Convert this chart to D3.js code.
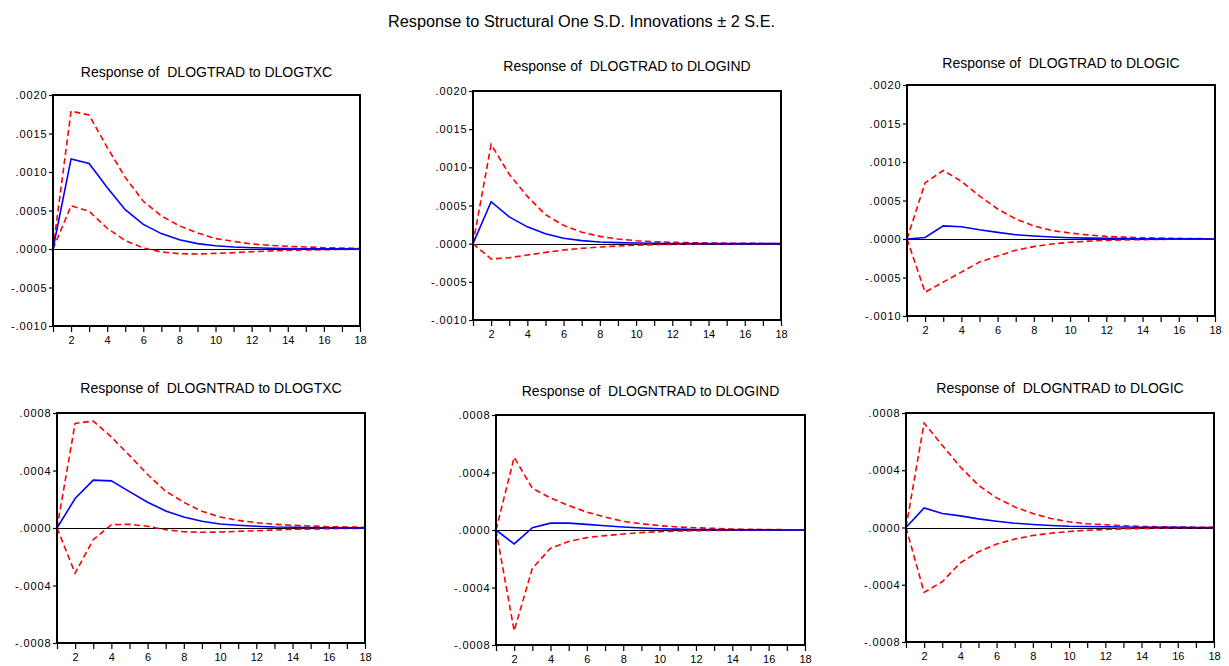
<!DOCTYPE html>
<html>
<head>
<meta charset="utf-8">
<script src="https://cdn.jsdelivr.net/npm/d3@7"></script>
<style>
  html, body { margin: 0; padding: 0; background: #fff; }
  svg { display: block; font-family: "Liberation Sans", Arial, sans-serif; }
</style>
</head>
<body>
<svg id="chart" width="1229" height="666"></svg>
<script>
// ---------------- DATA ----------------
const periods = [1,2,3,4,5,6,7,8,9,10,11,12,13,14,15,16,17,18];
const xTickLabels = ["", "2", "", "4", "", "6", "", "8", "", "10", "", "12", "", "14", "", "16", "", "18"];

const titles = [
  "Response of  DLOGTRAD to DLOGTXC",
  "Response of  DLOGTRAD to DLOGIND",
  "Response of  DLOGTRAD to DLOGIC",
  "Response of  DLOGNTRAD to DLOGTXC",
  "Response of  DLOGNTRAD to DLOGIND",
  "Response of  DLOGNTRAD to DLOGIC"
];

const yTicksTop = [-0.001, -0.0005, 0, 0.0005, 0.001, 0.0015, 0.002];
const yLabelsTop = ["-.0010", "-.0005", ".0000", ".0005", ".0010", ".0015", ".0020"];
const yTicksBottom = [-0.0008, -0.0004, 0, 0.0004, 0.0008];
const yLabelsBottom = ["-.0008", "-.0004", ".0000", ".0004", ".0008"];

// Panel 1: DLOGTRAD to DLOGTXC
const resp1  = [0, 0.00117, 0.00111, 0.00080, 0.00051, 0.00032, 0.00020, 0.00012, 0.00007, 0.000043, 0.000026, 0.000017, 0.00001, 0.000006, 0.000004, 0.000002, 0.000001, 0.0000005];
const upper1 = [0, 0.00179, 0.00174, 0.00132, 0.00093, 0.00062, 0.00043, 0.00030, 0.00021, 0.000135, 0.00010, 0.000065, 0.000048, 0.000035, 0.000026, 0.000017, 0.000013, 0.000009];
const lower1 = [0, 0.00056, 0.00049, 0.00027, 0.00011, 0.000013, -0.000039, -0.000061, -0.000065, -0.000057, -0.000048, -0.000035, -0.000026, -0.000017, -0.000013, -0.000009, -0.000005, -0.000004];

// Panel 2: DLOGTRAD to DLOGIND
const resp2  = [0, 0.00055, 0.00035, 0.00022, 0.00013, 0.00007, 0.00004, 0.000022, 0.000013, 0.000008, 0.000005, 0.000003, 0.000002, 0.000001, 0.000001, 0, 0, 0];
const upper2 = [0, 0.0013, 0.00091, 0.00062, 0.00038, 0.00024, 0.00015, 0.000096, 0.000061, 0.000039, 0.000026, 0.000018, 0.000013, 0.000009, 0.000006, 0.000004, 0.000003, 0.000002];
const lower2 = [0, -0.0002, -0.000184, -0.000149, -0.000114, -0.000083, -0.000061, -0.000044, -0.00003, -0.00002, -0.000013, -0.000009, -0.000006, -0.000004, -0.000003, -0.000002, -0.000001, -0.000001];

// Panel 3: DLOGTRAD to DLOGIC
const resp3  = [0, 0.00002, 0.00017, 0.00016, 0.00012, 0.000086, 0.000056, 0.000039, 0.000026, 0.000017, 0.000012, 0.000008, 0.000005, 0.000003, 0.000002, 0.000001, 0.000001, 0];
const upper3 = [0, 0.00073, 0.00089, 0.00075, 0.00056, 0.00039, 0.00026, 0.00017, 0.00011, 0.000078, 0.000052, 0.000034, 0.000024, 0.000017, 0.000012, 0.000008, 0.000005, 0.000003];
const lower3 = [0, -0.00069, -0.00056, -0.00043, -0.0003, -0.00022, -0.000147, -0.000099, -0.000065, -0.000043, -0.000028, -0.000018, -0.000012, -0.000008, -0.000005, -0.000003, -0.000002, -0.000001];

// Panel 4: DLOGNTRAD to DLOGTXC
const resp4  = [0, 0.000205, 0.000333, 0.000328, 0.000253, 0.000179, 0.000119, 0.000077, 0.000047, 0.000028, 0.000019, 0.000012, 0.000007, 0.000005, 0.000003, 0.000002, 0.000001, 0.000001];
const upper4 = [0, 0.000728, 0.000744, 0.000633, 0.000505, 0.000372, 0.000256, 0.000179, 0.000116, 0.000077, 0.000053, 0.000037, 0.000026, 0.000019, 0.000014, 0.000009, 0.000007, 0.000005];
const lower4 = [0, -0.000314, -0.000081, 0.000023, 0.000026, 0.000012, -0.000012, -0.000026, -0.00003, -0.000028, -0.000023, -0.000019, -0.000014, -0.000009, -0.000007, -0.000005, -0.000003, -0.000002];

// Panel 5: DLOGNTRAD to DLOGIND
const resp5  = [0, -0.000097, 0.000016, 0.000048, 0.000048, 0.000039, 0.00003, 0.000021, 0.000014, 0.000009, 0.000006, 0.000004, 0.000003, 0.000002, 0.000001, 0.000001, 0, 0];
const upper5 = [0, 0.000506, 0.00029, 0.000223, 0.00017, 0.000124, 0.00009, 0.00006, 0.000044, 0.00003, 0.000021, 0.000016, 0.000011, 0.000007, 0.000005, 0.000003, 0.000002, 0.000002];
const lower5 = [0, -0.000701, -0.000267, -0.000126, -0.00008, -0.000053, -0.000039, -0.000028, -0.000018, -0.000011, -0.000007, -0.000005, -0.000003, -0.000002, -0.000001, -0.000001, 0, 0];

// Panel 6: DLOGNTRAD to DLOGIC
const resp6  = [0, 0.000137, 0.000098, 0.000081, 0.00006, 0.000044, 0.00003, 0.000021, 0.000014, 0.000009, 0.000007, 0.000005, 0.000003, 0.000002, 0.000001, 0.000001, 0, 0];
const upper6 = [0, 0.00073, 0.000574, 0.000423, 0.000295, 0.000207, 0.000144, 0.000098, 0.000063, 0.00004, 0.000026, 0.000019, 0.000012, 0.000007, 0.000005, 0.000003, 0.000002, 0.000001];
const lower6 = [0, -0.000453, -0.000379, -0.000247, -0.00017, -0.000116, -0.000081, -0.000056, -0.00004, -0.000028, -0.000019, -0.000014, -0.000009, -0.000007, -0.000005, -0.000003, -0.000002, -0.000001];

// ---------------- LAYOUT ----------------
const layout = [
  {left: 53,  top: 95,  right: 360,  bottom: 326, titleY: 77},
  {left: 473, top: 91,  right: 781,  bottom: 320, titleY: 71},
  {left: 907, top: 85,  right: 1215, bottom: 316, titleY: 68},
  {left: 57,  top: 413, right: 365,  bottom: 643, titleY: 393},
  {left: 496, top: 415, right: 805,  bottom: 645, titleY: 395.5},
  {left: 906, top: 413, right: 1214, bottom: 642, titleY: 393}
];

const panels = [
  {resp: resp1, upper: upper1, lower: lower1, ticks: yTicksTop, labels: yLabelsTop, dom: [-0.001, 0.002]},
  {resp: resp2, upper: upper2, lower: lower2, ticks: yTicksTop, labels: yLabelsTop, dom: [-0.001, 0.002]},
  {resp: resp3, upper: upper3, lower: lower3, ticks: yTicksTop, labels: yLabelsTop, dom: [-0.001, 0.002]},
  {resp: resp4, upper: upper4, lower: lower4, ticks: yTicksBottom, labels: yLabelsBottom, dom: [-0.0008, 0.0008]},
  {resp: resp5, upper: upper5, lower: lower5, ticks: yTicksBottom, labels: yLabelsBottom, dom: [-0.0008, 0.0008]},
  {resp: resp6, upper: upper6, lower: lower6, ticks: yTicksBottom, labels: yLabelsBottom, dom: [-0.0008, 0.0008]}
];

const svg = d3.select("#chart");

svg.append("text")
  .attr("x", 581.5).attr("y", 27)
  .attr("text-anchor", "middle")
  .attr("font-size", 16)
  .attr("textLength", 387)
  .attr("lengthAdjust", "spacingAndGlyphs")
  .attr("fill", "#000")
  .text("Response to Structural One S.D. Innovations \u00B1 2 S.E.");

panels.forEach((p, i) => {
  const L = layout[i];
  const x = d3.scaleLinear().domain([1, 18]).range([L.left, L.right]);
  const y = d3.scaleLinear().domain(p.dom).range([L.bottom, L.top]);
  const g = svg.append("g");

  // title
  g.append("text")
    .attr("x", (L.left + L.right) / 2)
    .attr("y", L.titleY)
    .attr("text-anchor", "middle")
    .attr("font-size", 14)
    .attr("fill", "#000")
    .style("white-space", "pre")
    .text(titles[i]);

  // zero line
  const y0 = Math.round(y(0)) + 0.5;
  g.append("line")
    .attr("x1", x(1)).attr("x2", x(18))
    .attr("y1", y0).attr("y2", y0)
    .attr("stroke", "#000").attr("stroke-width", 1)
    .attr("shape-rendering", "crispEdges");

  const line = d3.line().x((d, k) => x(periods[k])).y(d => y(d));

  g.append("path").datum(p.upper)
    .attr("d", line).attr("fill", "none")
    .attr("stroke", "#ff0000").attr("stroke-width", 1.6)
    .attr("stroke-dasharray", "6,3.5");
  g.append("path").datum(p.lower)
    .attr("d", line).attr("fill", "none")
    .attr("stroke", "#ff0000").attr("stroke-width", 1.6)
    .attr("stroke-dasharray", "6,3.5");
  g.append("path").datum(p.resp)
    .attr("d", line).attr("fill", "none")
    .attr("stroke", "#0000ff").attr("stroke-width", 1.6);

  // frame
  g.append("rect")
    .attr("x", L.left).attr("y", L.top)
    .attr("width", L.right - L.left).attr("height", L.bottom - L.top)
    .attr("fill", "none").attr("stroke", "#000").attr("stroke-width", 2)
    .attr("shape-rendering", "crispEdges");

  // y axis
  const yAxis = d3.axisLeft(y)
    .tickValues(p.ticks)
    .tickFormat((d, k) => p.labels[k])
    .tickSize(3).tickPadding(1.5);
  const ya = g.append("g").attr("transform", `translate(${L.left - 1},0)`).call(yAxis);
  ya.select(".domain").remove();
  ya.selectAll("line").attr("stroke", "#000").attr("stroke-width", 1.2);
  ya.selectAll("text").attr("font-size", 11).attr("fill", "#000")
    .attr("font-family", "'Liberation Sans', Arial, sans-serif")
    .style("letter-spacing", "0.9px");

  // x axis
  const xAxis = d3.axisBottom(x)
    .tickValues(periods)
    .tickFormat((d, k) => xTickLabels[k])
    .tickSize(6).tickPadding(4);
  const xa = g.append("g").attr("transform", `translate(0,${L.bottom})`).call(xAxis);
  xa.select(".domain").remove();
  xa.selectAll("line").attr("stroke", "#000").attr("stroke-width", 1.2);
  xa.selectAll("text").attr("font-size", 11).attr("fill", "#000")
    .attr("font-family", "'Liberation Sans', Arial, sans-serif");
});
</script>
</body>
</html>
